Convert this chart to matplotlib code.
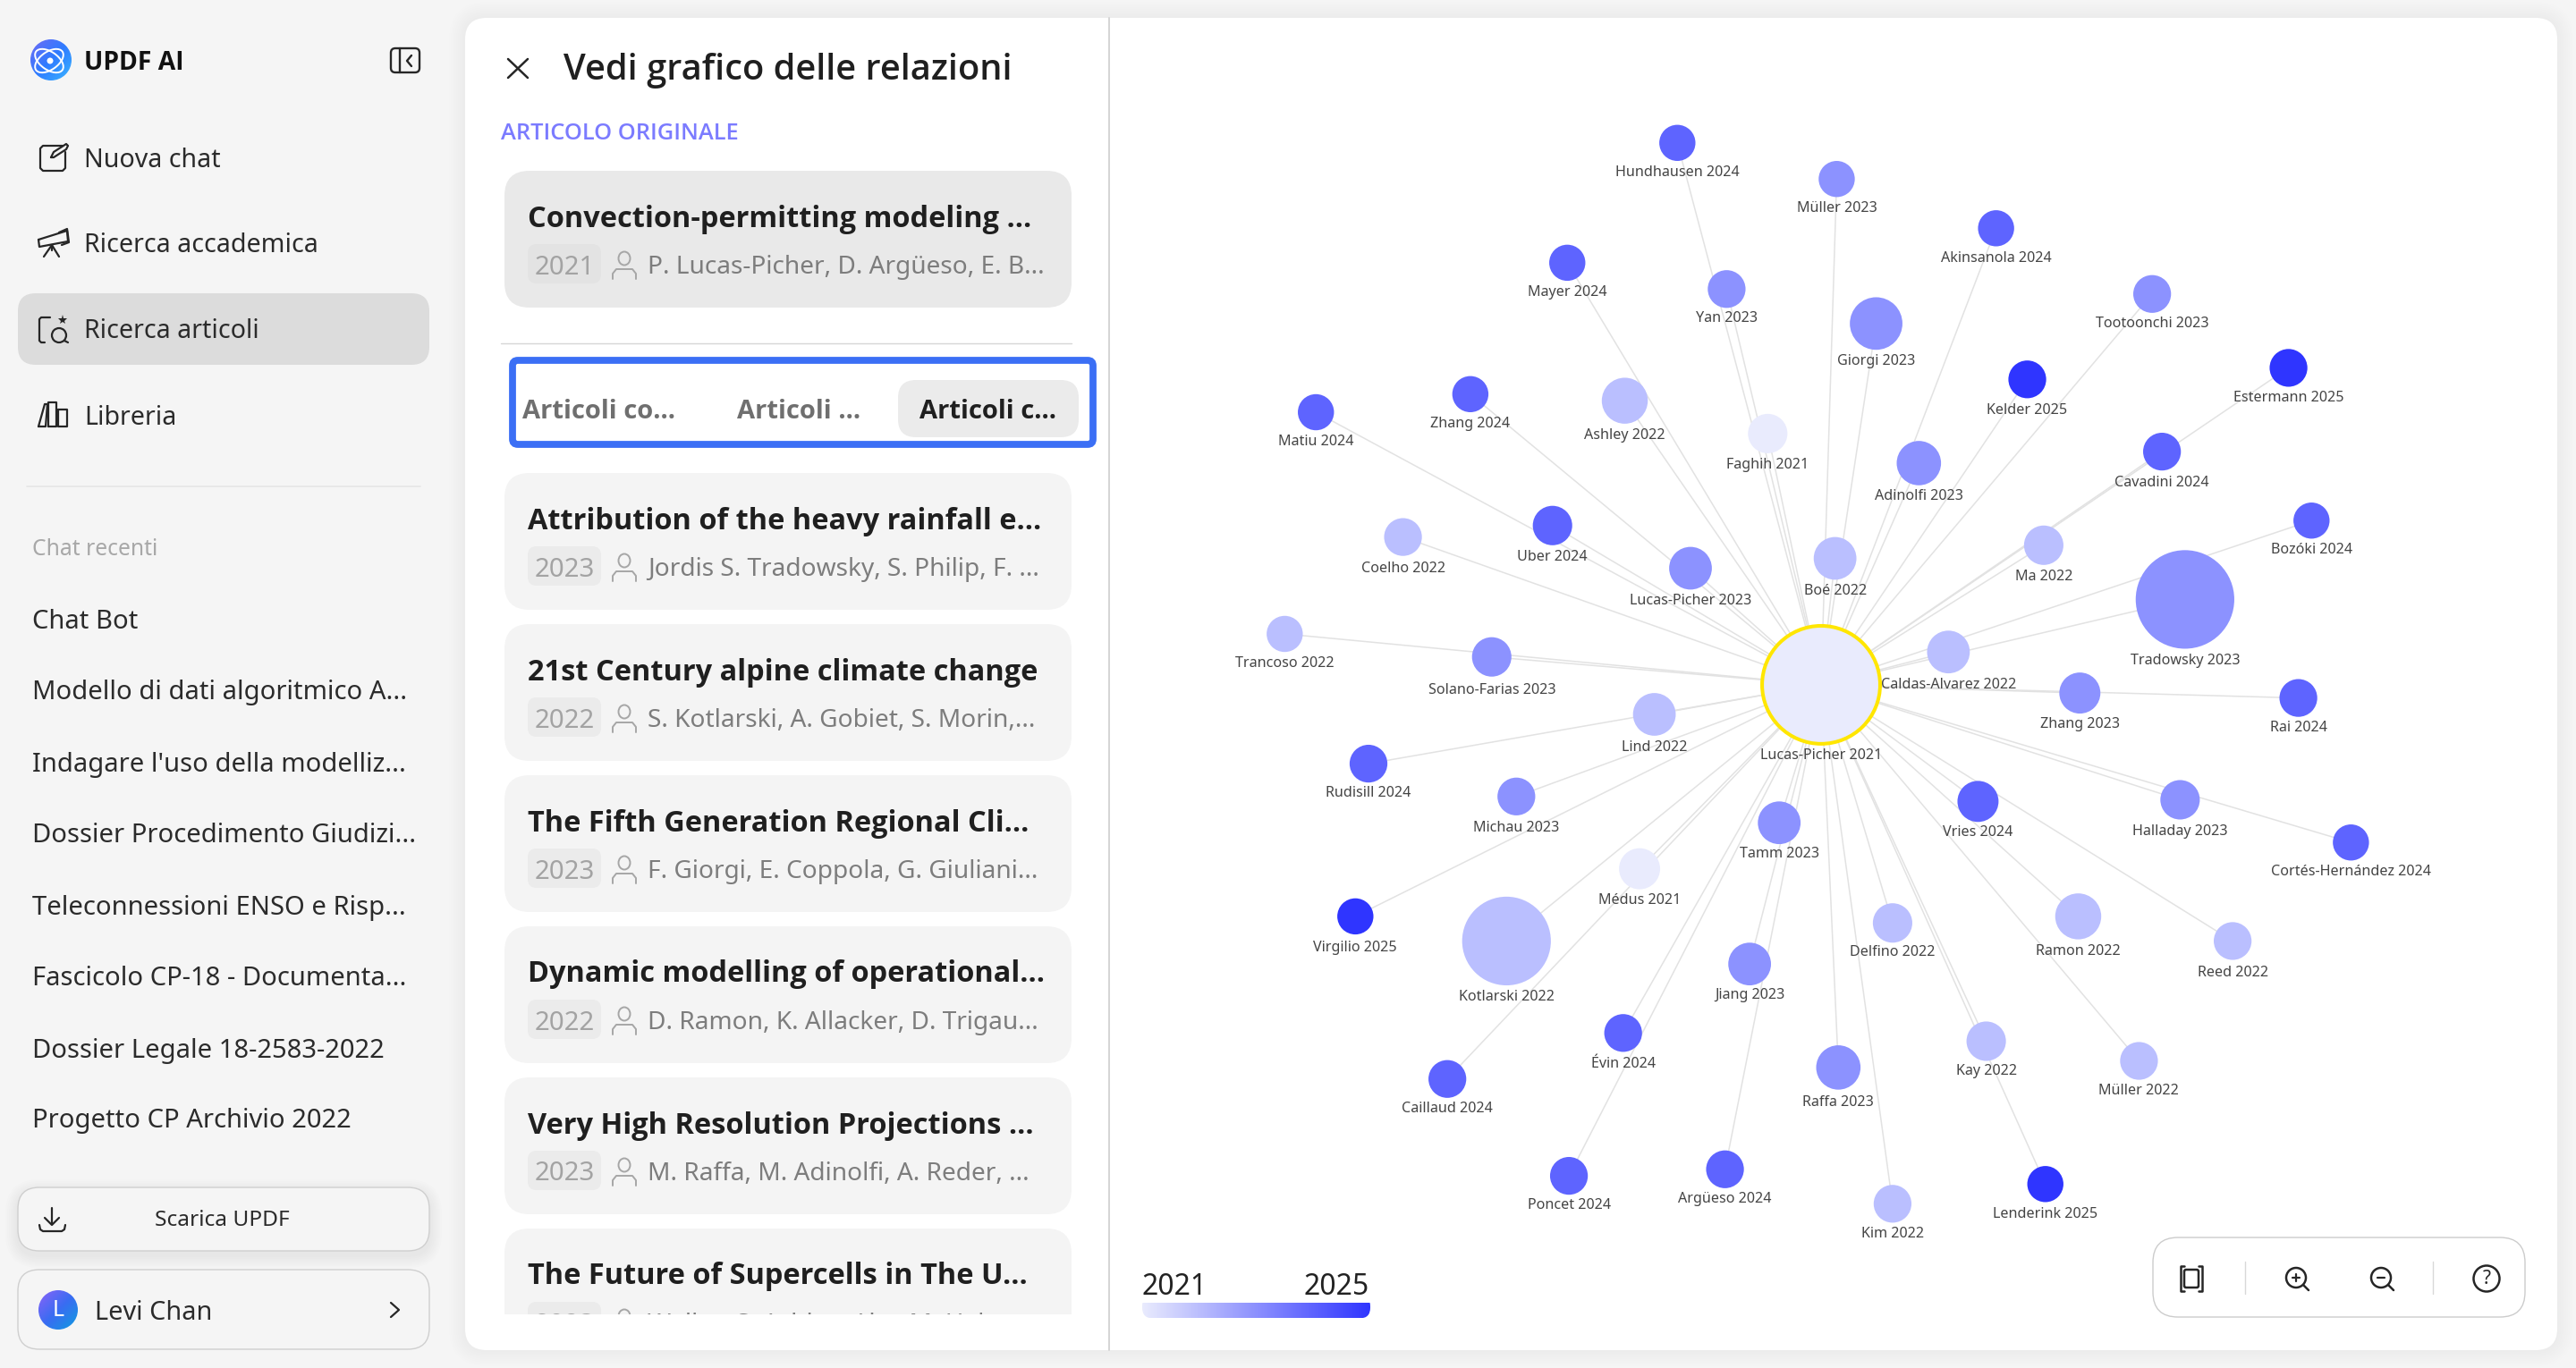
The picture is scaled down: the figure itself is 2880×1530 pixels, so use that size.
import numpy as np
import matplotlib
matplotlib.use("Agg")
import matplotlib.pyplot as plt
from matplotlib.patches import FancyBboxPatch, Circle, Ellipse, Rectangle
from matplotlib.colors import LinearSegmentedColormap

plt.rcParams['font.family'] = ['Noto Sans', 'DejaVu Sans']

# node values, read on a 1568 wide view of the screenshot
node_names = ["Hundhausen", "Müller", "Akinsanola", "Mayer", "Yan", "Giorgi", "Tootoonchi", "Kelder", "Estermann",
              "Zhang", "Ashley", "Matiu", "Faghih", "Adinolfi", "Cavadini", "Bozóki", "Coelho", "Uber", "Lucas-Picher",
              "Boé", "Ma", "Tradowsky", "Trancoso", "Solano-Farias", "Caldas-Alvarez", "Zhang", "Rai", "Lind",
              "Rudisill", "Michau", "Tamm", "Vries", "Halladay", "Cortés-Hernández", "Médus", "Virgilio", "Kotlarski",
              "Delfino", "Ramon", "Reed", "Jiang", "Évin", "Kay", "Müller", "Raffa", "Caillaud", "Poncet", "Argüeso",
              "Kim", "Lenderink"]
node_years = [2024, 2023, 2024, 2024, 2023, 2023, 2023, 2025, 2025,
              2024, 2022, 2024, 2021, 2023, 2024, 2024, 2022, 2024, 2023,
              2022, 2022, 2023, 2022, 2023, 2022, 2023, 2024, 2022,
              2024, 2023, 2023, 2024, 2023, 2024, 2021, 2025, 2022,
              2022, 2022, 2022, 2023, 2024, 2022, 2022, 2023, 2024, 2024, 2024,
              2022, 2025]
node_x = [1021, 1118, 1215, 954, 1051, 1142, 1310, 1234, 1393,
          895, 989, 801, 1076, 1168, 1316, 1407, 854, 945, 1029,
          1117, 1244, 1330, 782, 908, 1186, 1266, 1399, 1007,
          833, 923, 1083, 1204, 1327, 1431, 998, 825, 917,
          1152, 1265, 1359, 1065, 988, 1209, 1302, 1119, 881, 955, 1050,
          1152, 1245]
node_y = [87, 109, 139, 160, 176, 197, 179, 231, 224,
          240, 244, 251, 264, 282, 275, 317, 327, 320, 346,
          340, 332, 365, 386, 400, 397, 422, 425, 435,
          465, 485, 501, 488, 487, 513, 529, 558, 573,
          562, 558, 573, 587, 629, 634, 646, 650, 657, 716, 712,
          733, 721]
node_r = [11, 11, 11, 11, 11.5, 16, 11.5, 11.5, 11.5,
          11, 14, 11, 12, 13.5, 11.5, 11, 11.5, 12, 13,
          13, 12, 30, 11, 12, 13, 12.5, 11.5, 13,
          11.5, 11.5, 13, 12.5, 12, 11, 12.5, 11, 27,
          12, 14, 11.5, 13, 11.5, 12, 11.5, 13.5, 11.5, 11.5, 11.5,
          11.5, 11]
label_y = [104, 126, 156, 177, 193, 219, 196, 249, 241,
           257, 264, 268, 282, 301, 293, 334, 345, 338, 365,
           359, 350, 401, 403, 419, 416, 440, 442, 454,
           482, 503, 519, 506, 505, 530, 547, 576, 606,
           579, 578, 591, 605, 647, 651, 663, 670, 674, 733, 729,
           750, 738]
center_node = ("Lucas-Picher", 2021, 1108.5, 417, 37, 459)

year_colors = {2021: "#e9ebfd", 2022: "#babfff", 2023: "#8c92ff", 2024: "#5e64ff", 2025: "#2f35ff"}

menu_items = ["Nuova chat", "Ricerca accademica", "Ricerca articoli", "Libreria"]
menu_y = [177, 272, 368, 465]
chat_items = ["Chat Bot", "Modello di dati algoritmico A...", "Indagare l'uso della modelliz...",
              "Dossier Procedimento Giudizi...", "Teleconnessioni ENSO e Risp...", "Fascicolo CP-18 - Documenta...",
              "Dossier Legale 18-2583-2022", "Progetto CP Archivio 2022"]
chat_y = [692, 771, 852, 931, 1012, 1091, 1172, 1251]

card_titles = ["Attribution of the heavy rainfall e...", "21st Century alpine climate change",
               "The Fifth Generation Regional Cli...", "Dynamic modelling of operational...",
               "Very High Resolution Projections ...", "The Future of Supercells in The U..."]
card_years = ["2023", "2022", "2023", "2022", "2023", "2023"]
card_authors = ["Jordis S. Tradowsky, S. Philip, F. ...", "S. Kotlarski, A. Gobiet, S. Morin,...",
                "F. Giorgi, E. Coppola, G. Giuliani...", "D. Ramon, K. Allacker, D. Trigau...",
                "M. Raffa, M. Adinolfi, A. Reder, ...", "Walker S. Ashley, Alex M. Hab..."]

S = 2880 / 1568
INK = "#262626"
HEAVY = ['Open Sans', 'DejaVu Sans']

fig = plt.figure(figsize=(14.4, 7.65), dpi=200, facecolor="#f5f5f5")
ax = fig.add_axes([0, 0, 1, 1])
ax.axis("off")


def rbox(x0, y0, x1, y1, r, fc="none", ec="none", lw=0, z=2):
    p = FancyBboxPatch((x0, y0), x1 - x0, y1 - y0, boxstyle=f"round,pad=0,rounding_size={r}",
                       fc=fc, ec=ec, lw=lw, zorder=z)
    ax.add_patch(p)
    return p


def shadow(x0, y0, x1, y1, r, spread=16, dy=0, a=0.006, z=1):
    for i in range(spread, 0, -2):
        rbox(x0 - i, y0 - i + dy, x1 + i, y1 + i + dy, r + i, fc=(0, 0, 0, a), z=z)


def line(xs, ys, c=INK, lw=0.8, z=5):
    ax.plot(xs, ys, color=c, lw=lw, zorder=z, solid_capstyle="round", solid_joinstyle="round")


def txt(x, y, s, size=10.5, c=INK, w="normal", ha="left", z=6):
    # va center sits a little high against the screenshot text
    fam = HEAVY if w != "normal" else plt.rcParams['font.family']
    return ax.text(x, y + 3, s, fontsize=size, color=c, fontweight=w, family=fam, ha=ha, va="center", zorder=z)


def grad_circle(cx, cy, r, colors, z=5):
    g = np.linspace(0, 1, 64)
    xx, yy = np.meshgrid(g, g)
    cm = LinearSegmentedColormap.from_list("c", colors)
    im = ax.imshow((xx + yy) / 2, extent=(cx - r, cx + r, cy + r, cy - r), cmap=cm, aspect="auto", zorder=z, vmin=0, vmax=1)
    im.set_clip_path(Circle((cx, cy), r, transform=ax.transData))


# sidebar
shadow(520, 20, 2859, 1510, 24, spread=18, a=0.005)
rbox(520, 20, 2859, 1510, 24, fc="white", z=2)
grad_circle(57, 67, 23, ["#6f6bf5", "#2f7bff", "#39b5ff"])
ax.add_patch(Ellipse((55, 68), 36, 20, angle=35, fc="none", ec="white", lw=0.7, zorder=6))
ax.add_patch(Ellipse((55, 68), 36, 20, angle=-35, fc="none", ec="white", lw=0.7, zorder=6))
ax.add_patch(Circle((56, 68), 3.5, fc="white", ec="none", zorder=6))
txt(94, 67, "UPDF AI", 10.2, "#111111", "bold")
rbox(437, 54, 469, 81, 5, ec=INK, lw=0.85, z=5)
line([447, 447], [54, 81], lw=0.85)
line([460, 455, 460], [62, 68, 74], lw=0.85)

rbox(20, 328, 480, 408, 20, fc="#dcdcdc", z=2)
for s, y in zip(menu_items, menu_y):
    txt(94, y - 1, s, 10.3, "#2b2b2b")
# menu icons
line([70, 48, 45, 45, 48, 70, 73, 73], [163, 163, 166, 188, 191, 191, 188, 170])
line([57, 60, 74, 76, 74, 60, 57], [176, 170, 161, 163, 167, 176, 176])
line([43, 75, 76, 44, 43], [268, 258, 270, 276, 268])
line([66, 75, 77, 69], [260, 256, 271, 274])
line([49, 58, 66], [287, 274, 287])
line([58, 58], [274, 280])
line([56, 46, 44, 44, 46, 50], [355, 355, 357, 381, 383, 383])
ax.add_patch(Circle((66, 375), 8, fc="none", ec=INK, lw=0.8, zorder=5))
line([72, 76], [381, 383])
ax.plot([70], [358], marker="*", ms=4, color=INK, mew=0, zorder=5)
line([43, 50, 53, 51, 43], [477, 452, 452, 477, 477])
line([54, 54, 63, 63, 54], [477, 450, 450, 477, 477])
line([65, 75, 75, 65, 65], [458, 458, 477, 477, 458])

line([30, 470], [544, 544], "#e6e6e6", 0.6)
txt(36, 611, "Chat recenti", 8.9, "#a8a8a8")
for s, y in zip(chat_items, chat_y):
    txt(36, y, s, 10.5, "#2b2b2b")

shadow(20, 1328, 480, 1399, 24, spread=14, dy=5, a=0.006)
rbox(20, 1328, 480, 1399, 24, fc="#f5f5f5", ec="#cfcfcf", lw=0.5, z=2)
txt(248, 1362, "Scarica UPDF", 8.8, "#2b2b2b", ha="center")
line([58, 58], [1351, 1369])
line([50, 58, 66], [1362, 1370, 1362])
line([44, 45, 48, 69, 72, 73], [1370, 1375, 1377, 1377, 1375, 1370])
rbox(20, 1420, 480, 1509, 24, fc="#f5f5f5", ec="#cfcfcf", lw=0.5, z=2)
grad_circle(65, 1465, 22, ["#8a63f8", "#3a6cf2", "#0f9be0"])
txt(65, 1463, "L", 9, "white", ha="center")
txt(106, 1465, "Levi Chan", 10.4, "#2b2b2b")
line([437, 446, 437], [1457, 1465, 1473])

# middle panel
line([1240, 1240], [20, 1510], "#d4d4d4", 0.7, z=3)
line([568, 590], [66, 87], INK, 0.9)
line([568, 590], [87, 66], INK, 0.9)
txt(630, 76, "Vedi grafico delle relazioni", 14.3, "#1f1f1f", "semibold")
txt(560, 146, "ARTICOLO ORIGINALE", 9.2, "#7b7bff", "semibold")


def person(x, y, c="#a6a6a6"):
    ax.add_patch(Ellipse((x, y - 8), 13, 15, fc="none", ec=c, lw=0.7, zorder=5))
    line([x - 13, x - 13, x - 9, x + 9, x + 13, x + 13], [y + 15, y + 9, y + 4, y + 4, y + 9, y + 15], c, 0.7)


def card(top, title, year, authors, fc):
    rbox(564, top, 1198, top + 153, 28, fc=fc, z=2)
    rbox(590, top + 82, 672, top + 126, 10, fc="#ebebeb" if fc != "#e9e9e9" else "#e3e3e3", z=3)
    txt(590, top + 51, title, 11.7, "#1f1f1f", "bold")
    txt(631, top + 105, year, 10.6, "#a3a3a3", ha="center")
    person(698, top + 106)
    txt(724, top + 105, authors, 10.1, "#7d7d7d")


card(191, "Convection-permitting modeling ...", "2021", "P. Lucas-Picher, D. Argüeso, E. B...", "#e9e9e9")
line([560, 1198], [384, 384], "#d6d6d6", 0.5)
rbox(573, 403, 1222, 497, 6, fc="white", ec="#3b6ff5", lw=2.8, z=3)
rbox(1004, 425, 1206, 489, 20, fc="#ebebeb", z=4)
txt(584, 457, "Articoli co...", 10.5, "#6f6f6f", "bold")
txt(824, 457, "Articoli ...", 10.5, "#6f6f6f", "bold")
txt(1028, 457, "Articoli c...", 10.5, "#1f1f1f", "bold")

for i in range(len(card_titles)):
    before = set(ax.get_children())
    card(529 + 169 * i, card_titles[i], card_years[i], card_authors[i], "#f4f4f4")
    if i == len(card_titles) - 1:
        # the list is cut at the bottom of its scroll area
        cut = Rectangle((540, 0), 700, 1470, transform=ax.transData)
        for a in set(ax.get_children()) - before:
            a.set_clip_on(True)
            a.set_clip_path(cut)

# graph
xc, yc = center_node[2] * S, center_node[3] * S
nx = np.array(node_x) * S
ny = np.array(node_y) * S
nr = np.array(node_r) * S
for x, y in zip(nx, ny):
    ax.plot([xc, x], [yc, y], color="#e2e2e2", lw=0.55, zorder=3)
for i in range(len(node_names)):
    ax.add_patch(Circle((nx[i], ny[i]), nr[i], fc=year_colors[node_years[i]], ec="none", zorder=4))
    ax.text(nx[i], label_y[i] * S + 2, f"{node_names[i]} {node_years[i]}", fontsize=5.8, color="#444444",
            ha="center", va="center", zorder=6)
ax.add_patch(Circle((xc, yc), center_node[4] * S - 2, fc=year_colors[2021], ec="#ffe600", lw=1.45, zorder=4))
ax.text(xc, center_node[5] * S + 2, f"{center_node[0]} {center_node[1]}", fontsize=5.8, color="#444444",
        ha="center", va="center", zorder=6)

# legend
txt(1277, 1437, "2021", 11.5, "#222222")
txt(1531, 1437, "2025", 11.5, "#222222", ha="right")
cm = LinearSegmentedColormap.from_list("years", [year_colors[2021], year_colors[2025]])
im = ax.imshow(np.linspace(0, 1, 256).reshape(1, -1), extent=(1277, 1532, 1474, 1457), cmap=cm, aspect="auto", zorder=5)
im.set_clip_path(rbox(1277, 1449, 1532, 1474.5, 12, fc="none", z=1))

# zoom controls
shadow(2407, 1384, 2823, 1473, 28, spread=18, dy=6, a=0.004)
rbox(2407, 1384, 2823, 1473, 28, fc="white", ec="#cccccc", lw=0.5, z=4)
line([2510, 2510], [1411, 1447], "#d8d8d8", 0.5)
line([2720, 2720], [1411, 1447], "#d8d8d8", 0.5)
for x in (2438, 2462):
    sgn = 1 if x > 2450 else -1
    line([x - sgn * 4, x, x, x - sgn * 4], [1416, 1416, 1444, 1444], lw=0.9)
rbox(2442, 1420, 2458, 1440, 2, ec=INK, lw=0.9, z=5)
for x, minus in ((2568, False), (2663, True)):
    ax.add_patch(Circle((x - 1, 1429), 11, fc="none", ec=INK, lw=0.9, zorder=5))
    line([x + 7, x + 13], [1437, 1443], lw=0.9)
    line([x - 5, x + 3], [1429, 1429], lw=0.8)
    if not minus:
        line([x - 1, x - 1], [1425, 1433], lw=0.8)
ax.add_patch(Circle((2780, 1430), 14.5, fc="none", ec=INK, lw=0.9, zorder=5))
txt(2780, 1427, "?", 7.5, INK, ha="center")

ax.set_xlim(0, 2880)
ax.set_ylim(1530, 0)
fig.savefig("out.png", dpi=200, facecolor=fig.get_facecolor())
